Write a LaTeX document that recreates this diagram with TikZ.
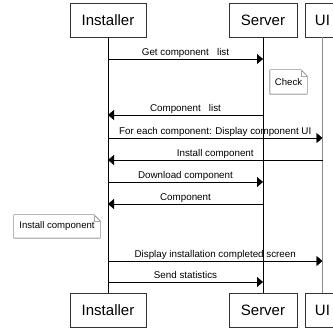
\documentclass[tikz,border=0pt]{standalone}
\usepackage{fontspec}
\setmainfont{Liberation Sans}
\usetikzlibrary{arrows.meta, positioning}

\begin{document}
\begin{tikzpicture}[x=1pt, y=-1pt,
	actor/.style={draw=black!80, minimum height=34pt, inner sep=0pt, font=\fontsize{15}{15}\selectfont},
	msg/.style={-{Triangle[length=6pt,width=10pt]}, black},
	lbl/.style={anchor=base, yshift=3pt, inner sep=0pt, font=\fontsize{9.8}{11}\selectfont},
	note/.style={minimum height=23pt, inner sep=0pt, font=\fontsize{9.6}{11}\selectfont}]
		%%%	Cornice
		\useasboundingbox (0,0) rectangle (333,328);
		
		%%% Partecipanti
		\node [actor, minimum width=76pt] (inst) at (108,20) {Installer};
		\node [actor, minimum width=68pt] (srv) at (263,20) {Server};
		\node [actor, minimum width=35pt] (ui) at (322.5,20) {UI};
		\node [actor, minimum width=76pt] (inst2) at (108,310) {Installer};
		\node [actor, minimum width=68pt] (srv2) at (263,310) {Server};
		\node [actor, minimum width=35pt] (ui2) at (322.5,310) {UI};
		
		%%% Linee di vita
		\draw [black] (inst) -- (inst2);
		\draw [black] (srv) -- (srv2);
		\draw [black!45, line width=1.5pt] (ui) -- (ui2);
		
		%%% Punti dei messaggi
		\foreach \y [count=\i] in {59,115,138,160,182,204,261,282} {
			\coordinate (i\i) at (inst |- 0,\y);
			\coordinate (s\i) at (srv |- 0,\y);
			\coordinate (u\i) at (ui |- 0,\y);
		}
		
		%%% Messaggi
		\draw [msg] (i1) -- (s1) node [lbl, midway] {Get component\ \ \ list};
		\draw [msg] (s2) -- (i2) node [lbl, midway] {Component\ \ \ list};
		\draw [msg] (i3) -- (u3) node [lbl, midway] {For each component: Display component UI};
		\draw [msg] (u4) -- (i4) node [lbl, midway] {Install component};
		\draw [msg] (i5) -- (s5) node [lbl, midway] {Download component};
		\draw [msg] (s6) -- (i6) node [lbl, midway] {Component};
		\draw [msg] (i7) -- (u7) node [lbl, midway] {Display installation completed screen};
		\draw [msg] (i8) -- (s8) node [lbl, midway] {Send statistics};
		
		%%% Note
		\node [note, minimum width=37pt, minimum height=24pt] (check) at (288.5,82) {Check};
		\node [note, minimum width=86pt] (instnote) at (57,226.5) {Install component};
		\foreach \n in {check, instnote} {
			\draw [black!80] (\n.north west) -- ([xshift=-6pt]\n.north east) -- ([yshift=-6pt]\n.north east) -- (\n.south east) -- (\n.south west) -- cycle;
			\draw [black!35] ([xshift=-6pt]\n.north east) |- ([yshift=-6pt]\n.north east);
		}
	\end{tikzpicture}
\end{document}
